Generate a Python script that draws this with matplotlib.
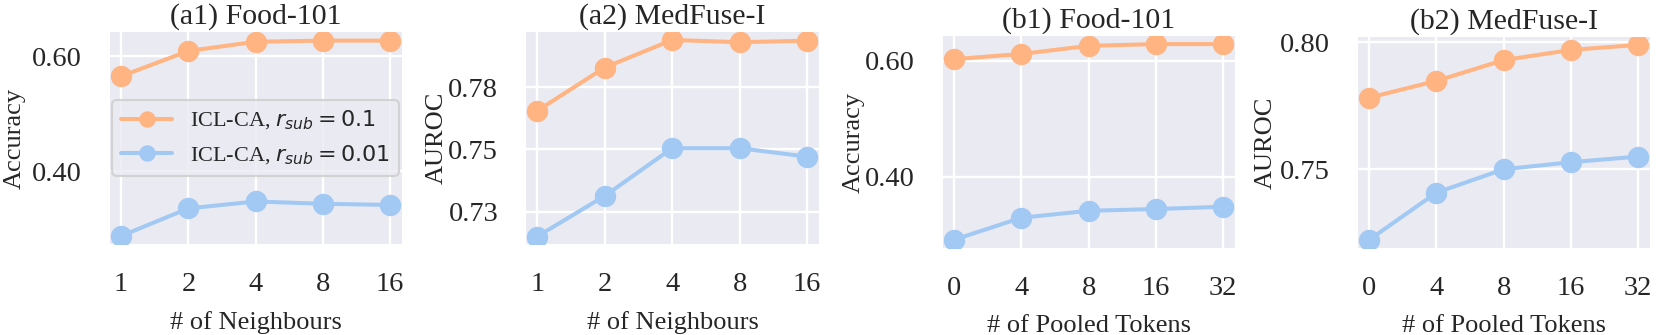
import matplotlib
matplotlib.use("Agg")
import matplotlib.pyplot as plt
import seaborn as sns

# ---------------- data ----------------
neighbours = ["1", "2", "4", "8", "16"]
pooled = ["0", "4", "8", "16", "32"]

a1_r01 = [0.565, 0.609, 0.625, 0.627, 0.627]
a1_r001 = [0.287, 0.335, 0.347, 0.343, 0.341]

a2_r01 = [0.7655, 0.7829, 0.7940, 0.7931, 0.7937]
a2_r001 = [0.7150, 0.7313, 0.7505, 0.7505, 0.7471]

b1_r01 = [0.603, 0.612, 0.626, 0.629, 0.629]
b1_r001 = [0.291, 0.329, 0.341, 0.344, 0.348]

b2_r01 = [0.7782, 0.7848, 0.7930, 0.7970, 0.7990]
b2_r001 = [0.7222, 0.7408, 0.7500, 0.7528, 0.7550]

acc_ticks = [0.40, 0.60]
acc_ticklabels = ["0.40", "0.60"]
a2_ticks = [0.725, 0.75, 0.775]
a2_ticklabels = ["0.73", "0.75", "0.78"]
b2_ticks = [0.75, 0.80]
b2_ticklabels = ["0.75", "0.80"]

titles = ["(a1) Food-101", "(a2) MedFuse-I", "(b1) Food-101", "(b2) MedFuse-I"]
ylabels = ["Accuracy", "AUROC", "Accuracy", "AUROC"]
xlabels = ["# of Neighbours", "# of Neighbours", "# of Pooled Tokens", "# of Pooled Tokens"]
label_r01 = r"ICL-CA, $r_{sub} = 0.1$"
label_r001 = r"ICL-CA, $r_{sub} = 0.01$"

# ---------------- style ----------------
sns.set_style("darkgrid")
plt.rcParams["font.family"] = ["Liberation Serif", "DejaVu Serif"]
plt.rcParams["mathtext.fontset"] = "dejavusans"

orange = "#FFB482"
blue = "#A1C9F4"

W, H = 1660, 335
fig = plt.figure(figsize=(W / 100, H / 100), dpi=100)

def px_axes(x0, x1, y0, y1):
    return fig.add_axes([x0 / W, (H - y1) / H, (x1 - x0) / W, (y1 - y0) / H])

boxes = [(110, 402, 32, 244), (526, 819, 32, 244), (943, 1235, 36, 248), (1358, 1650, 37, 248)]
panels = [
    (neighbours, a1_r01, a1_r001, (0.273, 0.642), acc_ticks, acc_ticklabels),
    (neighbours, a2_r01, a2_r001, (0.712, 0.7972), a2_ticks, a2_ticklabels),
    (pooled, b1_r01, b1_r001, (0.2767, 0.643), acc_ticks, acc_ticklabels),
    (pooled, b2_r01, b2_r001, (0.719, 0.8021), b2_ticks, b2_ticklabels),
]
ylabel_x = [-0.290, -0.266, -0.267, -0.278]

for i, (box, (cats, s1, s2, ylim, yt, ytl)) in enumerate(zip(boxes, panels)):
    ax = px_axes(*box)
    xs = list(range(len(cats)))
    ax.plot(xs, s1, "-o", color=orange, lw=2.9, ms=14.4, label=label_r01, zorder=3)
    ax.plot(xs, s2, "-o", color=blue, lw=2.9, ms=14.4, label=label_r001, zorder=3)
    ax.set_xticks(xs)
    ax.set_xticklabels(cats)
    ax.set_xlim(-0.165, 4.175)
    ax.set_ylim(*ylim)
    ax.set_yticks(yt)
    ax.set_yticklabels(ytl)
    ax.grid(True, color="white", lw=1.7)
    for s in ax.spines.values():
        s.set_visible(False)
    ax.tick_params(axis="both", length=0, pad=20, labelsize=20.5, colors="#262626")
    ax.set_title(titles[i], fontsize=21.5, pad=6, color="#262626")
    ax.set_xlabel(xlabels[i], fontsize=19, labelpad=10, color="#262626")
    ax.set_ylabel(ylabels[i], fontsize=19, color="#262626")
    ax.yaxis.set_label_coords(ylabel_x[i], 0.5)
    if i == 0:
        leg = ax.legend(loc="center left", bbox_to_anchor=(0.0, 0.5), borderaxespad=0.1,
                        fontsize=16, markerscale=0.75, handlelength=2.3, handletextpad=0.8,
                        frameon=True, fancybox=True)
        leg.get_frame().set_edgecolor("#cccccc")
        leg.get_frame().set_linewidth(1.5)

fig.savefig("out.png", dpi=100)
